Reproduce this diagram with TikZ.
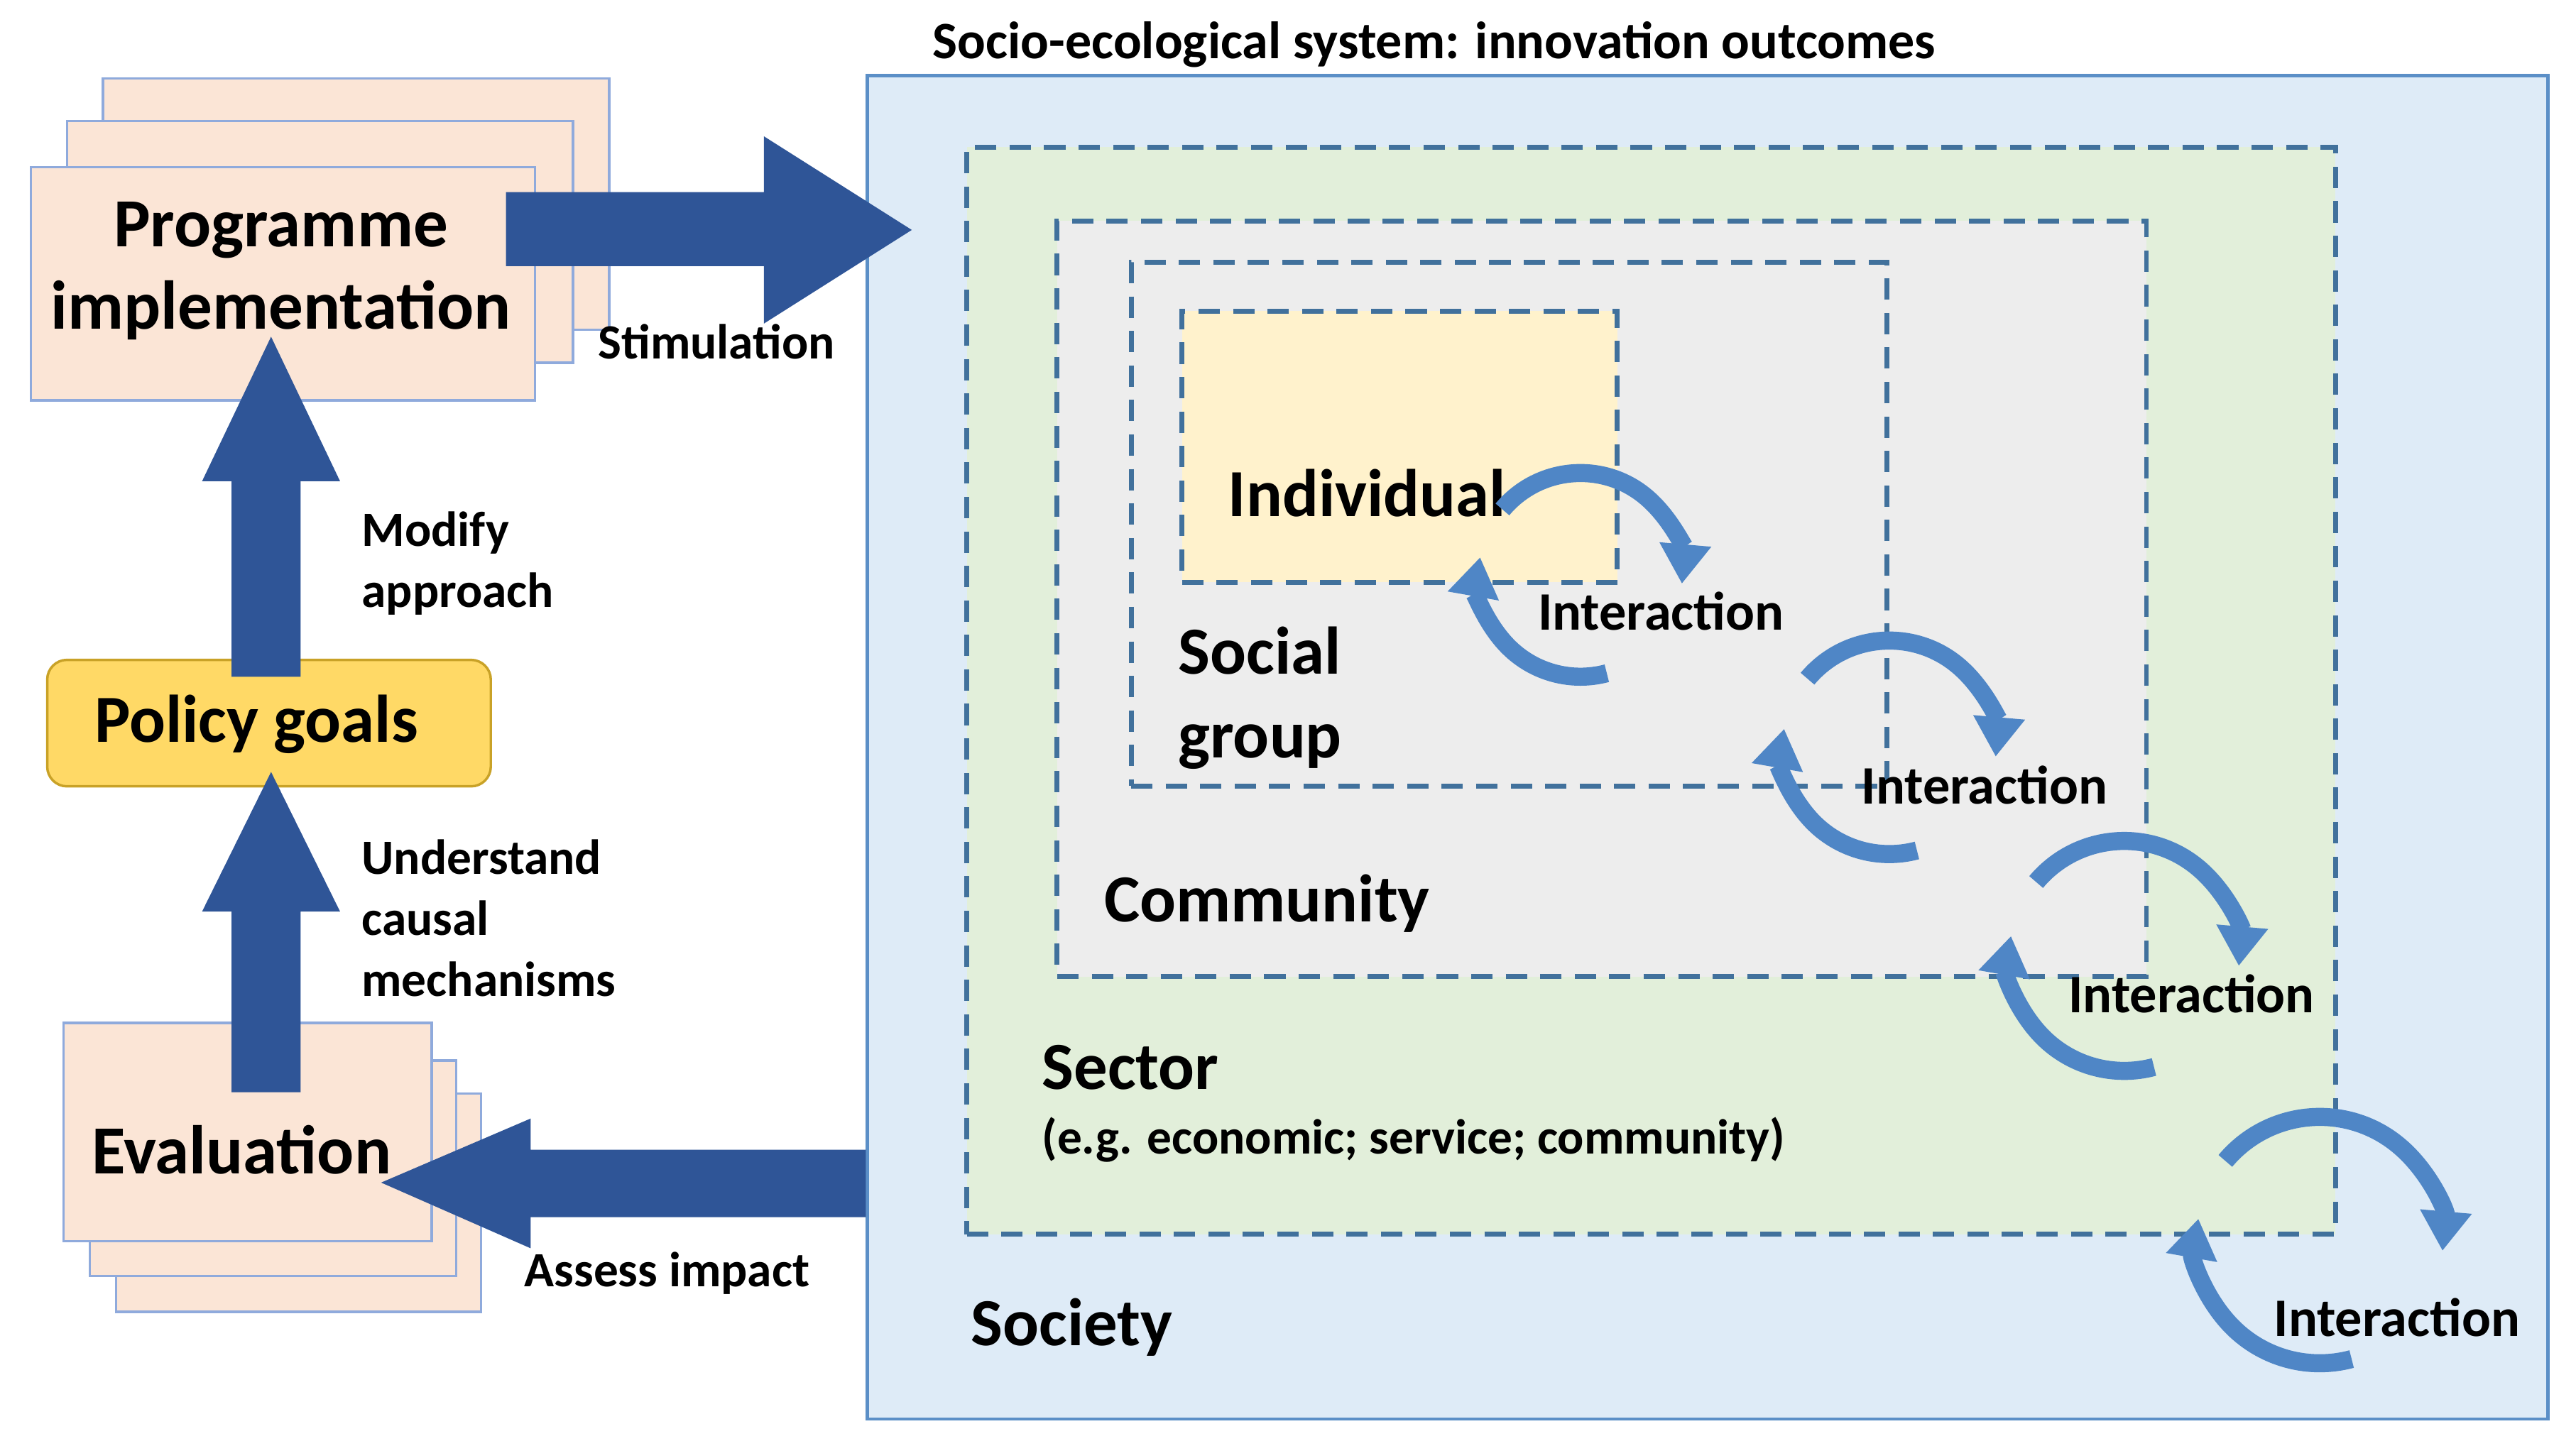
\documentclass[tikz,border=0pt]{standalone}
\usepackage{fontspec}
\setmainfont{Carlito}
\usetikzlibrary{arrows.meta,calc}
\definecolor{peach}{HTML}{FBE5D6}
\definecolor{pbord}{HTML}{8FAADC}
\definecolor{darkb}{HTML}{2F5597}
\definecolor{soc}{HTML}{DEEBF7}
\definecolor{socb}{HTML}{5B8FC7}
\definecolor{sect}{HTML}{E2EFDA}
\definecolor{comm}{HTML}{EDEDED}
\definecolor{indiv}{HTML}{FFF2CC}
\definecolor{dash}{HTML}{41719C}
\definecolor{gold}{HTML}{FFD966}
\definecolor{goldb}{HTML}{C9A227}
\definecolor{cyc}{HTML}{4F86C6}
\tikzset{
 pbox/.style={draw=pbord,line width=1.5pt,fill=peach,anchor=north west},
 dbox/.style={draw=dash,line width=3pt,dash pattern=on 13pt off 8pt,anchor=north west},
 lbl/.style={font=\fontsize{30}{37}\selectfont\bfseries,anchor=west,align=left,inner sep=0pt},
 big/.style={font=\fontsize{41}{48}\selectfont\bfseries,inner sep=0pt},
 blk/.style={fill=darkb},
 cyca/.style={draw=cyc,line width=11pt,-{Triangle[width=30pt,length=24pt]}},
}
\newcommand{\cycle}[2]{%
 \draw[cyca] ($(#1)+(-140:#2)$) arc[start angle=-140,end angle=5,radius=#2];
 \draw[cyca] ($(#1)+(75:#2)$) arc[start angle=75,end angle=190,radius=#2];}
\begin{document}
\begin{tikzpicture}[x=1pt,y=-1pt]
\useasboundingbox (0,0) rectangle (1568,880);
% society
\node[draw=socb,line width=2pt,fill=soc,minimum width=1023pt,minimum height=818pt,anchor=north west] (soc) at (527,45) {};
\node[font=\fontsize{32}{38}\selectfont\bfseries] (title) at (873,27) {Socio-ecological system: innovation outcomes};
\node[dbox,fill=sect,minimum width=833pt,minimum height=662pt] (sector) at (587,88) {};
\node[dbox,fill=comm,minimum width=663pt,minimum height=460pt] (comm) at (642,133) {};
\node[dbox,minimum width=460pt,minimum height=319pt] (sg) at (687,158) {};
\node[dbox,fill=indiv,minimum width=265pt,minimum height=165pt] (ind) at (718,188) {};
\node[big] (indl) at (832,300) {Individual};
\node[lbl,font=\fontsize{41}{51}\selectfont\bfseries] (sgl) at (717,425) {Social\\group};
\node[lbl,font=\fontsize{41}{48}\selectfont\bfseries] (cl) at (672,550) {Community};
\node[lbl,font=\fontsize{41}{48}\selectfont\bfseries] (secl) at (634,650) {Sector};
\node[lbl] (secs) at (634,694) {(e.g. economic; service; community)};
\node[lbl,font=\fontsize{41}{48}\selectfont\bfseries] (socl) at (591,808) {Society};
% cycles
\coordinate (c1) at (962,350);
\coordinate (c2) at (1150,455);
\coordinate (c3) at (1293,582);
\coordinate (c4) at (1412,755);
\cycle{c1}{62}
\cycle{c2}{65}
\cycle{c3}{70}
\cycle{c4}{75}
\node[lbl,anchor=center,font=\fontsize{33}{40}\selectfont\bfseries] (i1) at (1011,372) {Interaction};
\node[lbl,anchor=center,font=\fontsize{33}{40}\selectfont\bfseries] (i2) at (1208,478) {Interaction};
\node[lbl,anchor=center,font=\fontsize{33}{40}\selectfont\bfseries] (i3) at (1334,605) {Interaction};
\node[lbl,anchor=center,font=\fontsize{33}{40}\selectfont\bfseries] (i4) at (1459,802) {Interaction};
% programme
\node[pbox,minimum width=308pt,minimum height=153pt] (p3) at (62,47) {};
\node[pbox,minimum width=308pt,minimum height=147pt] (p2) at (40,73) {};
\node[pbox,minimum width=307pt,minimum height=142pt] (p1) at (18,101) {};
\node[big,align=center,font=\fontsize{42}{50}\selectfont\bfseries] (pl) at (171,165) {Programme\\implementation};
% evaluation
\node[pbox,minimum width=222pt,minimum height=133pt] (e3) at (70,665) {};
\node[pbox,minimum width=223pt,minimum height=131pt] (e2) at (54,645) {};
\node[pbox,minimum width=224pt,minimum height=133pt] (e1) at (38,622) {};
\node[big,font=\fontsize{42}{50}\selectfont\bfseries] (el) at (147,700) {Evaluation};
% policy
\node[draw=goldb,line width=1.5pt,fill=gold,rounded corners=12pt,minimum width=270pt,minimum height=77pt,anchor=north west] (pg) at (28,401) {};
\node[big] (pgl) at (156,441) {Policy goals};
% block arrows
\fill[blk] (308,117) -- (465,117) -- (465,83) -- (555,140) -- (465,197) -- (465,162) -- (308,162) -- cycle;
\fill[blk] (141,412) -- (141,293) -- (123,293) -- (165,205) -- (207,293) -- (183,293) -- (183,412) -- cycle;
\fill[blk] (141,665) -- (141,555) -- (123,555) -- (165,470) -- (207,555) -- (183,555) -- (183,665) -- cycle;
\fill[blk] (527,700) -- (323,700) -- (323,681) -- (232,720) -- (323,760) -- (323,741) -- (527,741) -- cycle;
\node[lbl] (stim) at (364,208) {Stimulation};
\node[lbl] (mod) at (220,343) {Modify\\approach};
\node[lbl,align=left] (und) at (220,559) {Understand\\causal\\mechanisms};
\node[lbl] (ass) at (319,775) {Assess impact};
\end{tikzpicture}
\end{document}
